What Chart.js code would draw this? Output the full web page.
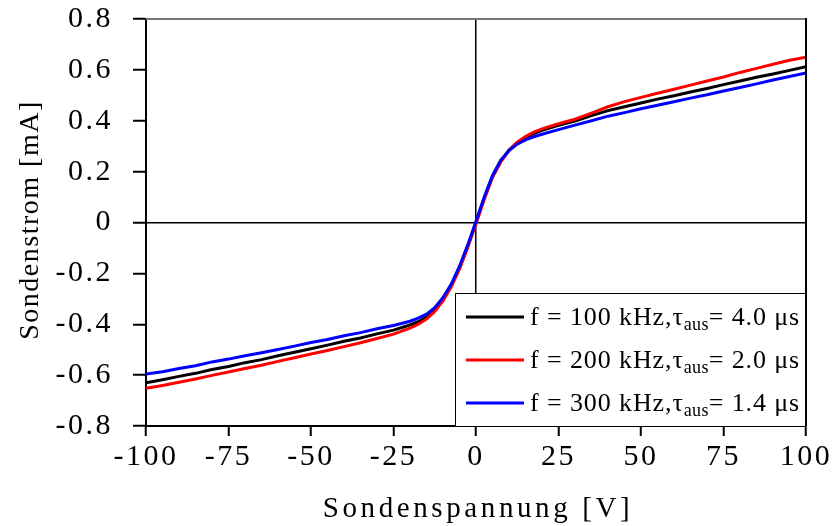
<!DOCTYPE html>
<html>
<head>
<meta charset="utf-8">
<script src="https://cdn.jsdelivr.net/npm/chart.js@4"></script>
<style>
  html, body { margin: 0; padding: 0; background: #fff; }
  #wrap { width: 834px; height: 526px; }
</style>
</head>
<body>
<div id="wrap"><canvas id="grafico" width="834" height="526"></canvas></div>
<script>
// Sondenspannung [V]
var spannung = [-100, -95, -90, -85, -80, -75, -70, -65, -60, -55, -50, -45, -40, -35, -30, -25, -20,
  -17.5, -15, -12.5, -10, -7.5, -5, -2.5, 0, 2.5, 5, 7.5, 10, 12.5, 15, 17.5,
  20, 25, 30, 35, 40, 45, 50, 55, 60, 65, 70, 75, 80, 85, 90, 95, 100];

// Sondenstrom [mA]
var strom100 = [-0.630, -0.618, -0.605, -0.593, -0.578, -0.566, -0.551, -0.539, -0.524, -0.510, -0.496, -0.482, -0.467, -0.454, -0.438, -0.423, -0.403,
  -0.390, -0.372, -0.345, -0.305, -0.250, -0.180, -0.095, 0.000, 0.095, 0.180, 0.240, 0.285, 0.315, 0.335, 0.350,
  0.362, 0.382, 0.399, 0.420, 0.440, 0.455, 0.470, 0.485, 0.498, 0.513, 0.527, 0.542, 0.556, 0.571, 0.584, 0.598, 0.612];

var strom200 = [-0.652, -0.641, -0.628, -0.615, -0.601, -0.588, -0.574, -0.561, -0.546, -0.532, -0.517, -0.503, -0.488, -0.473, -0.456, -0.439, -0.415,
  -0.400, -0.380, -0.350, -0.308, -0.252, -0.182, -0.097, -0.005, 0.090, 0.178, 0.238, 0.283, 0.316, 0.338, 0.355,
  0.368, 0.388, 0.406, 0.430, 0.455, 0.475, 0.492, 0.508, 0.524, 0.540, 0.556, 0.572, 0.590, 0.606, 0.622, 0.638, 0.650];

var strom300 = [-0.596, -0.587, -0.574, -0.563, -0.548, -0.537, -0.524, -0.512, -0.499, -0.486, -0.472, -0.460, -0.445, -0.433, -0.418, -0.405, -0.388,
  -0.376, -0.360, -0.335, -0.295, -0.242, -0.172, -0.088, 0.005, 0.100, 0.185, 0.245, 0.283, 0.308, 0.325, 0.337,
  0.347, 0.365, 0.383, 0.400, 0.418, 0.432, 0.447, 0.461, 0.475, 0.489, 0.502, 0.517, 0.531, 0.545, 0.560, 0.574, 0.588];

var xTicks = [-100, -75, -50, -25, 0, 25, 50, 75, 100];
var yTicks = [-0.8, -0.6, -0.4, -0.2, 0, 0.2, 0.4, 0.6, 0.8];

var legendeF = ['f = 100 kHz,', 'f = 200 kHz,', 'f = 300 kHz,'];
var legendeTau = ['= 4.0 \u03bcs', '= 2.0 \u03bcs', '= 1.4 \u03bcs'];
var farben = ['#000000', '#ff0000', '#0000ff'];

var schrift = '"Liberation Serif", "Times New Roman", serif';

function punkte(ys) {
  return spannung.map(function (x, i) { return { x: x, y: ys[i] }; });
}

var rahmenPlugin = {
  id: 'rahmen',
  beforeDraw: function (chart) {
    chart.ctx.letterSpacing = '2.5px';
  },
  afterDraw: function (chart) {
    var ctx = chart.ctx, a = chart.chartArea;
    ctx.save();
    // obere und rechte Begrenzung
    ctx.lineWidth = 2;
    ctx.strokeStyle = '#777';
    ctx.beginPath(); ctx.moveTo(a.left, a.top); ctx.lineTo(a.right, a.top); ctx.stroke();
    ctx.strokeStyle = '#000';
    ctx.beginPath(); ctx.moveTo(a.right, a.top - 1); ctx.lineTo(a.right, a.bottom); ctx.stroke();

    // Achsentitel
    ctx.fillStyle = '#000';
    ctx.font = '29px ' + schrift;
    ctx.textAlign = 'center';
    ctx.textBaseline = 'alphabetic';
    ctx.letterSpacing = '3.6px';
    ctx.fillText('Sondenspannung [V]', (a.left + a.right) / 2 + 2, 517);
    ctx.font = '28px ' + schrift;
    ctx.letterSpacing = '1.5px';
    ctx.translate(38, 220);
    ctx.rotate(-Math.PI / 2);
    ctx.fillText('Sondenstrom [mA]', 0, 0);
    ctx.restore();

    // Legende
    ctx.save();
    var lx = 455, ly = 293, lw = a.right - 455, lh = a.bottom - 293;
    ctx.fillStyle = '#fff';
    ctx.fillRect(lx, ly, lw, lh);
    ctx.strokeStyle = '#000';
    ctx.lineWidth = 1;
    ctx.strokeRect(lx + 0.5, ly + 0.5, lw - 1, lh);
    for (var i = 0; i < 3; i++) {
      var yy = 317 + i * 43;
      ctx.strokeStyle = farben[i];
      ctx.lineWidth = 3;
      ctx.beginPath(); ctx.moveTo(466, yy); ctx.lineTo(524, yy); ctx.stroke();
      ctx.fillStyle = '#000';
      ctx.textAlign = 'left';
      ctx.textBaseline = 'alphabetic';
      ctx.letterSpacing = '0.9px';
      ctx.font = '26px ' + schrift;
      var x = 530;
      ctx.fillText(legendeF[i], x, yy + 8);
      x += ctx.measureText(legendeF[i]).width;
      ctx.fillText('\u03c4', x, yy + 8);
      x += ctx.measureText('\u03c4').width;
      ctx.font = '18px ' + schrift;
      ctx.letterSpacing = '0.3px';
      ctx.fillText('aus', x, yy + 13);
      x += ctx.measureText('aus').width;
      ctx.font = '26px ' + schrift;
      ctx.letterSpacing = '0.9px';
      ctx.fillText(legendeTau[i], x, yy + 8);
    }
    ctx.restore();
  }
};

var ctx = document.getElementById('grafico').getContext('2d');
var chart = new Chart(ctx, {
  type: 'scatter',
  data: {
    datasets: [
      { label: legendeF[0], data: punkte(strom100), borderColor: farben[0], order: 2 },
      { label: legendeF[1], data: punkte(strom200), borderColor: farben[1], order: 1 },
      { label: legendeF[2], data: punkte(strom300), borderColor: farben[2], order: 0 }
    ]
  },
  options: {
    responsive: false,
    animation: false,
    showLine: true,
    elements: {
      point: { radius: 0 },
      line: { borderWidth: 3, tension: 0, fill: false }
    },
    layout: { padding: { left: 0, top: 19, right: 28, bottom: 0 } },
    plugins: {
      legend: { display: false },
      tooltip: { enabled: false }
    },
    scales: {
      x: {
        type: 'linear',
        min: -100, max: 100,
        afterFit: function (s) { s.height = 100; s.paddingLeft = 0; s.paddingRight = 0; },
        afterBuildTicks: function (s) { s.ticks = xTicks.map(function (v) { return { value: v }; }); },
        border: { display: true, color: '#000', width: 2 },
        grid: {
          drawOnChartArea: true,
          color: function (c) { return c.tick && c.tick.value === 0 ? '#000' : 'rgba(0,0,0,0)'; },
          lineWidth: 1.5,
          tickColor: '#000',
          tickWidth: 2,
          tickLength: 10
        },
        ticks: {
          color: '#000',
          font: { family: schrift, size: 30 },
          padding: 3,
          maxRotation: 0,
          autoSkip: false,
          callback: function (v) { return String(v); }
        }
      },
      y: {
        type: 'linear',
        min: -0.8, max: 0.8,
        afterFit: function (s) { s.width = 146; s.paddingTop = 0; s.paddingBottom = 0; },
        afterBuildTicks: function (s) { s.ticks = yTicks.map(function (v) { return { value: v }; }); },
        border: { display: true, color: '#000', width: 2 },
        grid: {
          drawOnChartArea: true,
          color: function (c) { return c.tick && Math.abs(c.tick.value) < 1e-9 ? '#000' : 'rgba(0,0,0,0)'; },
          lineWidth: 1.5,
          tickColor: '#000',
          tickWidth: 2,
          tickLength: 13
        },
        ticks: {
          color: '#000',
          font: { family: schrift, size: 30 },
          padding: 20,
          autoSkip: false,
          callback: function (v) { return Math.abs(v) < 1e-9 ? '0' : String(Math.round(v * 10) / 10); }
        }
      }
    }
  },
  plugins: [rahmenPlugin]
});
</script>
</body>
</html>
